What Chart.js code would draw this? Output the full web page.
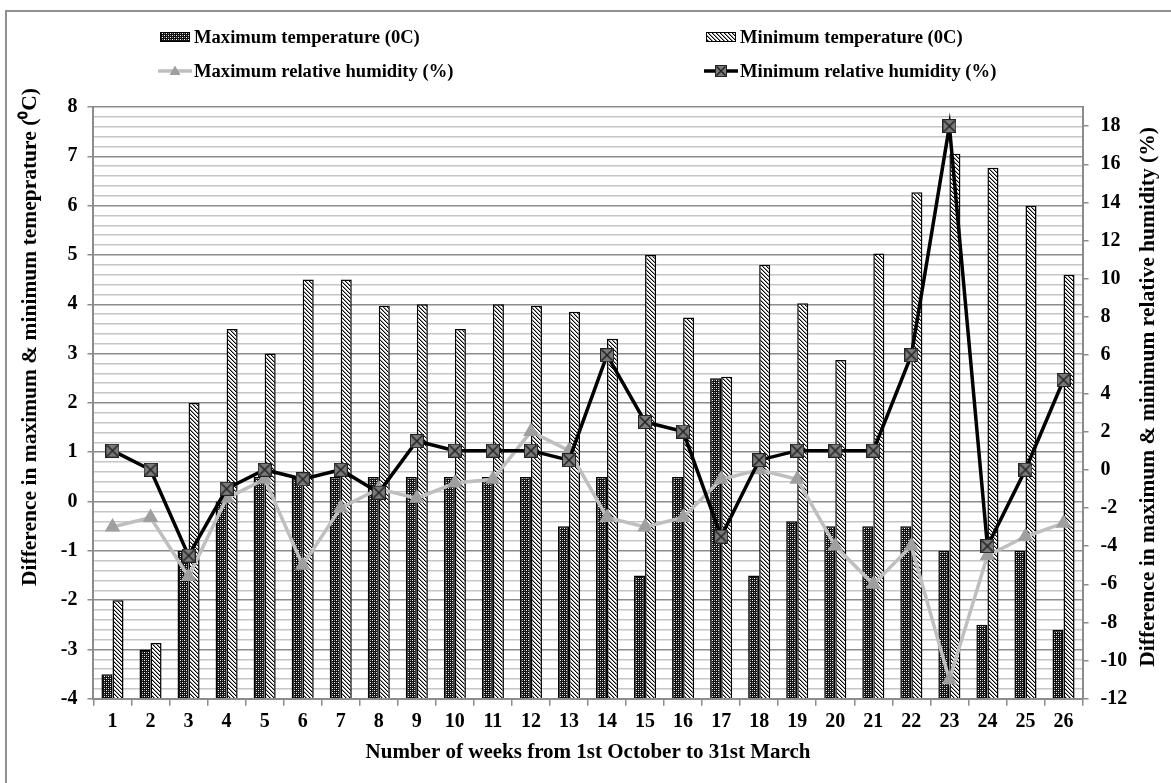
<!DOCTYPE html>
<html>
<head>
<meta charset="utf-8">
<script src="https://cdn.jsdelivr.net/npm/chart.js@4"></script>
<style>
  body { margin: 0; background: #fff; }
  #wrap { position: relative; width: 1171px; height: 783px; overflow: hidden; }
  #frame { position: absolute; left: 5px; top: 10px; width: 1300px; height: 900px;
           border-left: 2px solid #909090; border-top: 2px solid #909090; }
  #legend { position: absolute; left: 0; top: 0; font: bold 18.6px "Liberation Serif", "Times New Roman", serif; color: #000; }
  .item { position: absolute; display: flex; align-items: center; white-space: nowrap; transform: translateY(-50%); }
  .item canvas { margin-right: 2px; }
  #chart { position: absolute; left: 0; top: 0; }
</style>
</head>
<body>
<div id="wrap">
  <div id="frame"></div>
  <canvas id="chart" width="1171" height="783"></canvas>
  <div id="legend"></div>
</div>
<script>
const weeks = ["1", "2", "3", "4", "5", "6", "7", "8", "9", "10", "11", "12", "13",
  "14", "15", "16", "17", "18", "19", "20", "21", "22", "23", "24", "25", "26"];

// left axis, temperature difference (0C)
const maxTemp = [-3.5, -3, -1, 0, 0.5, 0.5, 0.5, 0.5, 0.5, 0.5, 0.5, 0.5, -0.5,
  0.5, -1.5, 0.5, 2.5, -1.5, -0.4, -0.5, -0.5, -0.5, -1, -2.5, -1, -2.6];
const minTemp = [-2, -2.87, 2, 3.5, 3, 4.5, 4.5, 3.97, 4, 3.5, 4, 3.97, 3.85,
  3.3, 5, 3.73, 2.53, 4.8, 4.02, 2.87, 5.03, 6.27, 7.05, 6.77, 6, 4.6];

// right axis, relative humidity difference (%)
const maxRH = [-3, -2.5, -5.6, -1.5, -0.5, -5, -2, -1, -1.5, -0.7, -0.5, 2, 1,
  -2.5, -3, -2.5, -0.5, 0, -0.5, -4, -6, -4, -11, -4.5, -3.5, -2.8];
const minRH = [1, 0, -4.5, -1, 0, -0.5, 0, -1.2, 1.5, 1, 1, 1, 0.5,
  6, 2.5, 2, -3.5, 0.5, 1, 1, 1, 6, 18, -4, 0, 4.7];

const rhTicks = [-12, -10, -8, -6, -4, -2, 0, 2, 4, 6, 8, 10, 12, 14, 16, 18];

const seriesNames = [
  "Maximum temperature (0C)",
  "Minimum temperature (0C)",
  "Maximum relative humidity (%)",
  "Minimum relative humidity (%)"
];
const xTitle = "Number of weeks from 1st October to 31st March";
const yTitle = "Difference in maximum & minimum temeprature (\u2070C)";
const y1Title = "Difference in maximum & minimum relative humidity (%)";

const FONT = '"Liberation Serif", "Times New Roman", serif';
Chart.defaults.font.family = FONT;
Chart.defaults.font.weight = "bold";
Chart.defaults.color = "#000";

function makePattern(kind) {
  const c = document.createElement("canvas");
  c.width = 4; c.height = 4;
  const g = c.getContext("2d");
  if (kind === "check") {
    g.fillStyle = "#111"; g.fillRect(0, 0, 4, 4);
    g.fillStyle = "#fff";
    g.fillRect(0, 0, 1, 1); g.fillRect(2, 2, 1, 1);
    g.fillStyle = "#8a8a8a";
    g.fillRect(2, 0, 1, 1); g.fillRect(0, 2, 1, 1);
  } else {
    g.fillStyle = "#fff"; g.fillRect(0, 0, 4, 4);
    for (let y = 0; y < 4; y++) {
      g.fillStyle = "#000"; g.fillRect(y, y, 1, 1);
      g.fillStyle = "#999"; g.fillRect((y + 1) % 4, y, 1, 1);
    }
  }
  return g.createPattern(c, "repeat");
}

function makeXMarker(size) {
  const c = document.createElement("canvas");
  c.width = size; c.height = size;
  const g = c.getContext("2d");
  g.fillStyle = "#7a7a7a";
  g.fillRect(0, 0, size, size);
  g.strokeStyle = "#222"; g.lineWidth = 1;
  g.strokeRect(0.5, 0.5, size - 1, size - 1);
  g.lineWidth = 1.5;
  g.beginPath();
  g.moveTo(1.5, 1.5); g.lineTo(size - 1.5, size - 1.5);
  g.moveTo(size - 1.5, 1.5); g.lineTo(1.5, size - 1.5);
  g.stroke();
  return c;
}

const checkFill = makePattern("check");
const hatchFill = makePattern("hatch");
const xMarker = makeXMarker(14);

const isInt = v => Math.abs(v - Math.round(v)) < 1e-6;

// both y titles read bottom-to-top; chart.js only keeps room for them
const axisTitles = {
  id: "axisTitles",
  afterDraw(chart) {
    const area = chart.chartArea;
    const g = chart.ctx;
    g.save();
    g.font = "bold 21.5px " + FONT;
    g.fillStyle = "#000";
    g.textBaseline = "middle";

    // left one sits near the top, as in the original
    g.save();
    g.translate(chart.scales.y.left + 9, area.top - 19);
    g.rotate(-Math.PI / 2);
    g.textAlign = "right";
    g.fillText(yTitle, 0, 0);
    g.restore();

    g.save();
    g.translate(chart.scales.y1.right - 21, (area.top + area.bottom) / 2 - 6);
    g.rotate(-Math.PI / 2);
    g.textAlign = "center";
    g.fillText(y1Title, 0, 0);
    g.restore();

    g.restore();
  }
};

const ctx = document.getElementById("chart").getContext("2d");
new Chart(ctx, {
  type: "bar",
  data: {
    labels: weeks,
    datasets: [
      {
        type: "line", label: seriesNames[3], data: minRH, yAxisID: "y1",
        borderColor: "#000", borderWidth: 3.5, tension: 0,
        pointStyle: xMarker, order: 0
      },
      {
        type: "line", label: seriesNames[2], data: maxRH, yAxisID: "y1",
        borderColor: "#bfbfbf", borderWidth: 3.5, tension: 0,
        pointStyle: "triangle", pointRadius: 5.5,
        pointBackgroundColor: "#9f9f9f", pointBorderColor: "#9f9f9f", order: 1
      },
      {
        label: seriesNames[0], data: maxTemp, yAxisID: "y", base: -4,
        backgroundColor: checkFill, borderColor: "#000", borderWidth: 1.5,
        categoryPercentage: 0.58, barPercentage: 1, order: 2
      },
      {
        label: seriesNames[1], data: minTemp, yAxisID: "y", base: -4,
        backgroundColor: hatchFill, borderColor: "#000", borderWidth: 1.5,
        categoryPercentage: 0.58, barPercentage: 1, order: 3
      }
    ]
  },
  options: {
    responsive: false,
    animation: false,
    layout: { padding: { left: 21, right: 2, top: 107, bottom: 18 } },
    plugins: { legend: { display: false }, tooltip: { enabled: false } },
    scales: {
      x: {
        grid: { drawOnChartArea: false, tickLength: 7, color: "#8c8c8c", lineWidth: 1.5 },
        border: { color: "#8c8c8c", width: 2 },
        ticks: { font: { size: 20 }, padding: 4, maxRotation: 0 },
        title: { display: true, text: xTitle, font: { size: 21 }, padding: { top: 2, bottom: 0 } }
      },
      y: {
        position: "left", min: -4, max: 8,
        ticks: {
          stepSize: 0.2, autoSkip: false, font: { size: 20 }, padding: 10,
          callback: v => isInt(v) ? String(Math.round(v)) : ""
        },
        grid: {
          color: c => isInt(c.tick.value) ? "#8c8c8c" : "#c6c6c6",
          tickColor: c => isInt(c.tick.value) ? "#8c8c8c" : "rgba(0,0,0,0)",
          lineWidth: 1.5, tickLength: 6
        },
        border: { color: "#8c8c8c", width: 2 },
        title: { display: true, text: yTitle, color: "rgba(0,0,0,0)", font: { size: 21.5 }, padding: { top: 0, bottom: 4 } }
      },
      y1: {
        position: "right", min: -12, max: 19,
        ticks: { font: { size: 20 }, padding: 12 },
        afterBuildTicks: s => { s.ticks = rhTicks.map(v => ({ value: v })); },
        grid: { drawOnChartArea: false, color: "#8c8c8c", lineWidth: 1.5, tickLength: 6 },
        border: { color: "#8c8c8c", width: 2 },
        title: { display: true, text: y1Title, color: "rgba(0,0,0,0)", font: { size: 21.5 }, padding: { top: 4, bottom: 0 } }
      }
    }
  },
  plugins: [axisTitles]
});

// legend laid out in two columns like the original
function swatch(kind) {
  const c = document.createElement("canvas");
  c.width = 34; c.height = 16;
  const g = c.getContext("2d");
  if (kind === "check" || kind === "hatch") {
    g.fillStyle = kind === "check" ? checkFill : hatchFill;
    g.fillRect(2, 3, 30, 10);
    g.strokeStyle = "#000"; g.lineWidth = 1;
    g.strokeRect(2.5, 3.5, 29, 9);
  } else if (kind === "tri") {
    g.strokeStyle = "#bfbfbf"; g.lineWidth = 3.5;
    g.beginPath(); g.moveTo(0, 8); g.lineTo(34, 8); g.stroke();
    g.fillStyle = "#9f9f9f";
    g.beginPath(); g.moveTo(17, 2.5); g.lineTo(22.5, 12); g.lineTo(11.5, 12); g.closePath(); g.fill();
  } else {
    g.strokeStyle = "#000"; g.lineWidth = 3.5;
    g.beginPath(); g.moveTo(0, 8); g.lineTo(34, 8); g.stroke();
    g.drawImage(makeXMarker(12), 11, 2);
  }
  return c;
}

const legendItems = [
  { name: seriesNames[0], kind: "check", left: 158, top: 37 },
  { name: seriesNames[1], kind: "hatch", left: 704, top: 37 },
  { name: seriesNames[2], kind: "tri", left: 158, top: 71 },
  { name: seriesNames[3], kind: "x", left: 704, top: 71 }
];
const legend = document.getElementById("legend");
legendItems.forEach(it => {
  const d = document.createElement("div");
  d.className = "item";
  d.style.left = it.left + "px";
  d.style.top = it.top + "px";
  d.appendChild(swatch(it.kind));
  const s = document.createElement("span");
  s.textContent = it.name;
  d.appendChild(s);
  legend.appendChild(d);
});
</script>
</body>
</html>
